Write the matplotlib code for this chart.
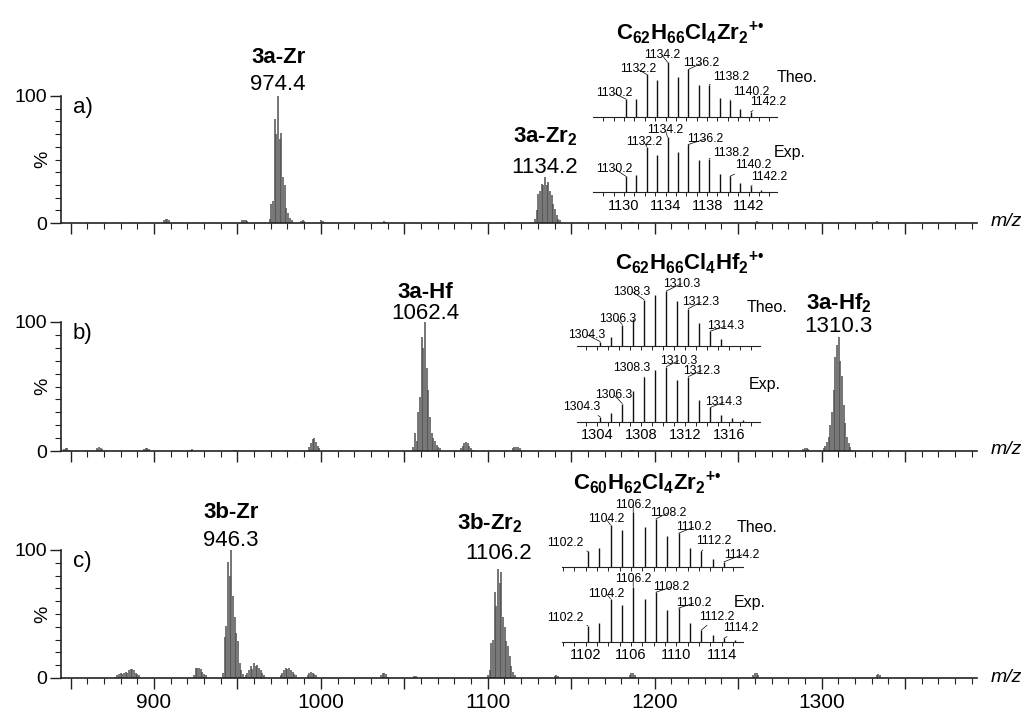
import numpy as np
import matplotlib.pyplot as plt
from matplotlib.ticker import MultipleLocator, NullFormatter, FuncFormatter

plt.rcParams['font.family'] = ['Liberation Sans', 'DejaVu Sans']
plt.rcParams['mathtext.fontset'] = 'custom'
plt.rcParams['mathtext.rm'] = 'Liberation Sans'
plt.rcParams['mathtext.it'] = 'Liberation Sans:italic'
plt.rcParams['mathtext.bf'] = 'Liberation Sans:bold'

W, H = 1027, 711
DARK = '#222222'
GREY = '#4f4f4f'

# ---------------- panel a) ----------------
a_mono_mz = [969.4, 970.4, 971.4, 972.4, 973.4, 974.4, 975.4, 976.4, 977.4, 978.4, 979.4, 980.4, 981.4, 982.4]
a_mono_int = [3, 15, 17, 82, 70, 100, 66, 71, 36, 30, 12, 8, 4, 2]
a_dim_mz = [1128.2, 1129.2, 1130.2, 1131.2, 1132.2, 1133.2, 1134.2, 1135.2, 1136.2, 1137.2,
            1138.2, 1139.2, 1140.2, 1141.2, 1142.2, 1143.2]
a_dim_int = [3, 10, 23, 25, 31, 30, 36, 30, 32, 25, 22, 15, 11, 6, 3, 2]
a_small_mz = [906, 907, 908, 909, 953, 954, 955, 956, 988, 989, 990, 1000, 1001,
              1038, 1039, 1112, 1113, 1186, 1187, 1261, 1262, 1333, 1334]
a_small_int = [2, 3, 3, 2, 2, 2.5, 2.5, 1.5, 1.5, 2, 1.5, 2, 1.5,
               1.2, 1, 1, 1, 1, 1, 1.2, 1, 1.2, 1]
a_peak_mz = [974.4, 1134.2]
a_peak_names = ['3a-Zr', '3a-Zr$_{\\mathbf{2}}$']

a_theo_mz = [1130.2, 1131.2, 1132.2, 1133.2, 1134.2, 1135.2, 1136.2, 1137.2, 1138.2, 1139.2,
             1140.2, 1141.2, 1142.2]
a_theo_int = [33, 34, 78, 67, 100, 74, 87, 59, 59, 35, 32, 16, 10]
a_exp_mz = [1130.2, 1131.2, 1132.2, 1133.2, 1134.2, 1135.2, 1136.2, 1137.2, 1138.2, 1139.2,
            1140.2, 1141.2, 1142.2, 1143.2, 1144.2]
a_exp_int = [29, 31, 83, 67, 100, 73, 87, 59, 61, 33, 29, 16, 11, 4, 1]
a_iso_labels = [1130.2, 1132.2, 1134.2, 1136.2, 1138.2, 1140.2, 1142.2]
a_iso_ticks = [1130, 1134, 1138, 1142]
a_formula = 'C$_{\\mathbf{62}}$H$_{\\mathbf{66}}$Cl$_{\\mathbf{4}}$Zr$_{\\mathbf{2}}{}^{\\mathbf{+•}}$'

# ---------------- panel b) ----------------
b_mono_mz = [1055.4, 1056.4, 1057.4, 1058.4, 1059.4, 1060.4, 1061.4, 1062.4, 1063.4, 1064.4,
             1065.4, 1066.4, 1067.4, 1068.4, 1069.4, 1070.4, 1071.4]
b_mono_int = [3, 14, 8, 30, 42, 88, 80, 100, 64, 47, 26, 14, 10, 8, 5, 3, 2]
b_dim_mz = [1301.3, 1302.3, 1303.3, 1304.3, 1305.3, 1306.3, 1307.3, 1308.3, 1309.3, 1310.3,
            1311.3, 1312.3, 1313.3, 1314.3, 1315.3, 1316.3, 1317.3, 1318.3]
b_dim_int = [2, 4, 7, 11, 20, 30, 47, 73, 82, 88, 70, 58, 36, 22, 11, 6, 3, 1]
b_small_mz = [846, 847, 848, 849, 866, 867, 868, 869, 894, 895, 896, 897, 922, 923, 948, 949,
              993, 994, 995, 996, 997, 998, 999, 1084, 1085, 1086, 1087, 1088, 1089, 1090, 1091,
              1115, 1116, 1117, 1118, 1119, 1120, 1186, 1187, 1289, 1290, 1291, 1292]
b_small_int = [1.5, 2, 2, 1, 2, 3, 2.5, 1.5, 1.5, 2.5, 2.5, 1.5, 1, 1.5, 1, 1,
               3, 6, 9, 10, 7, 4, 2, 2, 4, 6, 7, 6, 4, 2, 1,
               2, 3, 3, 3, 2, 1, 1, 1, 1.5, 2, 2, 1.5]
b_peak_mz = [1062.4, 1310.3]
b_peak_names = ['3a-Hf', '3a-Hf$_{\\mathbf{2}}$']

b_theo_mz = [1304.3, 1305.3, 1306.3, 1307.3, 1308.3, 1309.3, 1310.3, 1311.3, 1312.3, 1313.3,
             1314.3, 1315.3]
b_theo_int = [8, 17, 39, 50, 84, 92, 100, 81, 68, 42, 27, 13]
b_exp_mz = [1304.3, 1305.3, 1306.3, 1307.3, 1308.3, 1309.3, 1310.3, 1311.3, 1312.3, 1313.3,
            1314.3, 1315.3, 1316.3, 1317.3]
b_exp_int = [9, 16, 33, 55, 81, 94, 100, 76, 82, 39, 26, 13, 6, 3]
b_iso_labels = [1304.3, 1306.3, 1308.3, 1310.3, 1312.3, 1314.3]
b_iso_ticks = [1304, 1308, 1312, 1316]
b_formula = 'C$_{\\mathbf{62}}$H$_{\\mathbf{66}}$Cl$_{\\mathbf{4}}$Hf$_{\\mathbf{2}}{}^{\\mathbf{+•}}$'

# ---------------- panel c) ----------------
c_mono_mz = [941.3, 942.3, 943.3, 944.3, 945.3, 946.3, 947.3, 948.3, 949.3, 950.3, 951.3,
             952.3, 953.3, 954.3]
c_mono_int = [4, 32, 41, 91, 80, 100, 64, 48, 35, 29, 12, 6, 3, 1]
c_dim_mz = [1100.2, 1101.2, 1102.2, 1103.2, 1104.2, 1105.2, 1106.2, 1107.2, 1108.2, 1109.2,
            1110.2, 1111.2, 1112.2, 1113.2, 1114.2, 1115.2, 1116.2]
c_dim_int = [2, 6, 27, 30, 67, 56, 85, 74, 83, 48, 40, 29, 25, 17, 9, 5, 2]
c_small_mz = [878, 879, 880, 881, 882, 883, 884, 885, 886, 887, 888, 889, 890, 891,
              924, 925, 926, 927, 928, 929, 930, 931,
              955, 956, 957, 958, 959, 960, 961, 962, 963, 964, 965, 966,
              976, 977, 978, 979, 980, 981, 982, 983, 984, 985,
              992, 993, 994, 995, 996, 997,
              1036, 1037, 1038, 1039, 1040, 1056, 1057, 1140, 1141, 1142,
              1185, 1186, 1187, 1188, 1259, 1260, 1261, 1262, 1333, 1334, 1335]
c_small_int = [2, 3, 4, 3, 4, 5, 4, 6, 7, 7, 6, 4, 3, 2,
               2, 8, 8, 8, 7, 5, 3, 2,
               2, 4, 6, 9, 7, 12, 9, 10, 8, 6, 4, 2,
               2, 4, 6, 8, 7, 8, 6, 5, 3, 2,
               2, 4, 5, 4, 3, 2,
               2, 4, 4, 3, 1, 1.5, 1.5, 1.5, 2, 1.5,
               2, 4, 4, 2, 2, 4, 4, 2, 2, 3, 2]
c_peak_mz = [946.3, 1106.2]
c_peak_names = ['3b-Zr', '3b-Zr$_{\\mathbf{2}}$']

c_theo_mz = [1102.2, 1103.2, 1104.2, 1105.2, 1106.2, 1107.2, 1108.2, 1109.2, 1110.2, 1111.2,
             1112.2, 1113.2, 1114.2]
c_theo_int = [29, 35, 77, 67, 100, 74, 88, 57, 62, 35, 29, 16, 10]
c_exp_mz = [1102.2, 1103.2, 1104.2, 1105.2, 1106.2, 1107.2, 1108.2, 1109.2, 1110.2, 1111.2,
            1112.2, 1113.2, 1114.2, 1115.2]
c_exp_int = [29, 34, 78, 66, 100, 78, 90, 58, 61, 34, 21, 12, 6, 3]
c_iso_labels = [1102.2, 1104.2, 1106.2, 1108.2, 1110.2, 1112.2, 1114.2]
c_iso_ticks = [1102, 1106, 1110, 1114]
c_formula = 'C$_{\\mathbf{60}}$H$_{\\mathbf{62}}$Cl$_{\\mathbf{4}}$Zr$_{\\mathbf{2}}{}^{\\mathbf{+•}}$'

x_ticklabels = [900, 1000, 1100, 1200, 1300]

fig = plt.figure(figsize=(W / 100, H / 100), dpi=100)


def fx(x):
    return x / W


def fy(y):
    return 1 - y / H


def spectrum(y0, y100, mz, inten, peak_mz, names, offs, letter, bottom):
    ax = fig.add_axes([fx(61), fy(y0), (977 - 61) / W, (y0 - y100) / H])
    ax.set_xlim(844.3, 1393.1)
    ax.set_ylim(0, 100)
    ax.patch.set_visible(False)
    ax.vlines(mz, 0, inten, color=GREY, lw=1.1, clip_on=False, zorder=2)
    for s in ['top', 'right']:
        ax.spines[s].set_visible(False)
    for s in ['left', 'bottom']:
        ax.spines[s].set_color(DARK)
        ax.spines[s].set_linewidth(1.2)
    ax.xaxis.set_major_locator(MultipleLocator(50))
    ax.xaxis.set_minor_locator(MultipleLocator(10))
    ax.set_yticks([0, 100])
    ax.yaxis.set_minor_locator(MultipleLocator(10))
    ax.tick_params(which='major', length=8, width=1, color=DARK, direction='out')
    ax.tick_params(which='minor', length=4, width=0.8, color=DARK, direction='out')
    ax.tick_params(axis='y', labelsize=14, pad=2)
    ax.tick_params(axis='x', labelsize=15, pad=3)
    if bottom:
        ax.xaxis.set_major_formatter(
            FuncFormatter(lambda v, p: f'{v:.0f}' if round(v) in x_ticklabels else ''))
    else:
        ax.xaxis.set_major_formatter(NullFormatter())
    ax.text(-0.0202, 0.5, '%', transform=ax.transAxes, rotation=90,
            ha='center', va='center', fontsize=14)
    ax.annotate('m/z', xy=(1, 0), xycoords='axes fraction', xytext=(29, 1),
                textcoords='offset pixels', ha='center', va='center',
                fontsize=14, style='italic')
    ax.annotate(letter, xy=(0, 1), xycoords='axes fraction', xytext=(12, -12),
                textcoords='offset pixels', ha='left', va='center', fontsize=16)
    h = dict(zip(mz, inten))
    for m, name, (ndx, ndy, vdy) in zip(peak_mz, names, offs):
        ax.annotate(f'{m:.1f}', xy=(m, h[m]), xytext=(0, vdy), textcoords='offset pixels',
                    ha='center', va='baseline', fontsize=16)
        ax.annotate(name, xy=(m, h[m]), xytext=(ndx, ndy), textcoords='offset pixels',
                    ha='center', va='baseline', fontsize=16, fontweight='bold')
    return ax


def isotopes(left, right, base, xlim, mz, inten, lab_mz, offs, ticks):
    ax = fig.add_axes([fx(left), fy(base), (right - left) / W, 55 / H])
    ax.set_xlim(*xlim)
    ax.set_ylim(0, 100)
    ax.patch.set_visible(False)
    for s in ['top', 'right', 'left']:
        ax.spines[s].set_visible(False)
    ax.spines['bottom'].set_linewidth(0.8)
    ax.spines['bottom'].set_color(DARK)
    ax.set_yticks([])
    ax.xaxis.set_minor_locator(MultipleLocator(1))
    if ticks:
        ax.set_xticks(ticks)
        ax.set_xticklabels([str(t) for t in ticks])
    else:
        ax.set_xticks([])
    ax.tick_params(axis='x', which='both', length=3, width=0.7, color=DARK,
                   labelsize=10.5, pad=1.5)
    ax.vlines(mz, 0, inten, color='#111111', lw=1.0, clip_on=False)
    h = dict(zip(mz, inten))
    for m, (dx, dy) in zip(lab_mz, offs):
        ax.annotate(f'{m:.1f}', xy=(m, h[m]), xytext=(dx, dy), textcoords='offset pixels',
                    ha='center', va='center', fontsize=8.8,
                    arrowprops=dict(arrowstyle='-', lw=0.5, color='k',
                                    shrinkA=0, shrinkB=0))
    return ax


# main spectra
spectrum(223, 96, a_mono_mz + a_dim_mz + a_small_mz, a_mono_int + a_dim_int + a_small_int,
         a_peak_mz, a_peak_names, [(0, 33, 6), (0, 35, 4)], 'a)', False)
spectrum(451, 322, b_mono_mz + b_dim_mz + b_small_mz, b_mono_int + b_dim_int + b_small_int,
         b_peak_mz, b_peak_names, [(0, 24, 3), (0, 28, 5)], 'b)', False)
spectrum(678, 550, c_mono_mz + c_dim_mz + c_small_mz, c_mono_int + c_dim_int + c_small_int,
         c_peak_mz, c_peak_names, [(0, 32, 4), (-8, 40, 10)], 'c)', True)

# isotope pattern insets
isotopes(593.3, 776.7, 117.3, (1127.05, 1144.7), a_theo_mz, a_theo_int, a_iso_labels,
         [(-12, 6), (-9, 5), (-5.6, 7.3), (13, 6.1), (22, 8.2), (21, 8), (18, 10)], None)
isotopes(593.3, 776.7, 192.3, (1127.05, 1144.7), a_exp_mz, a_exp_int, a_iso_labels,
         [(-12, 7.8), (-3, 5), (-2.3, 7.3), (17, 5.5), (22, 5.6), (23, 11), (19, 9.5)],
         a_iso_ticks)
isotopes(577, 760, 346, (1302.2, 1318.8), b_theo_mz, b_theo_int, b_iso_labels,
         [(-13, 6.7), (-4.7, 5.5), (-12, 8.2), (15, 7.3), (12, 6.2), (15, 5)], None)
isotopes(577, 760, 421.7, (1302.2, 1318.8), b_exp_mz, b_exp_int, b_iso_labels,
         [(-18, 10), (-8, 8.5), (-12, 8.9), (12, 6), (13, 6), (13, 5.1)], b_iso_ticks)
isotopes(561.7, 743.3, 567.3, (1099.9, 1115.9), c_theo_mz, c_theo_int, c_iso_labels,
         [(-22, 8), (-4, 5.5), (0, 7.6), (12, 5.9), (15, 6), (13, 10), (18, 7)], None)
isotopes(561.7, 743.3, 641.7, (1099.9, 1115.9), c_exp_mz, c_exp_int, c_iso_labels,
         [(-22, 7.7), (-4, 5), (0, 8.1), (15, 5), (15, 5), (16, 13.6), (17, 10.7)],
         c_iso_ticks)

# formula titles and Theo./Exp. tags
for (x, y), f in zip([(690, 33), (690, 263), (647, 483)], [a_formula, b_formula, c_formula]):
    fig.text(fx(x), fy(y), f, ha='center', va='center', fontsize=16, fontweight='bold')
for (x, y), t in zip([(797, 77), (790, 152), (767, 307), (765, 385), (757, 528), (750, 603)],
                     ['Theo.', 'Exp.', 'Theo.', 'Exp.', 'Theo.', 'Exp.']):
    fig.text(fx(x), fy(y), t, ha='center', va='center', fontsize=11.5)

fig.savefig('out.png', dpi=100)
